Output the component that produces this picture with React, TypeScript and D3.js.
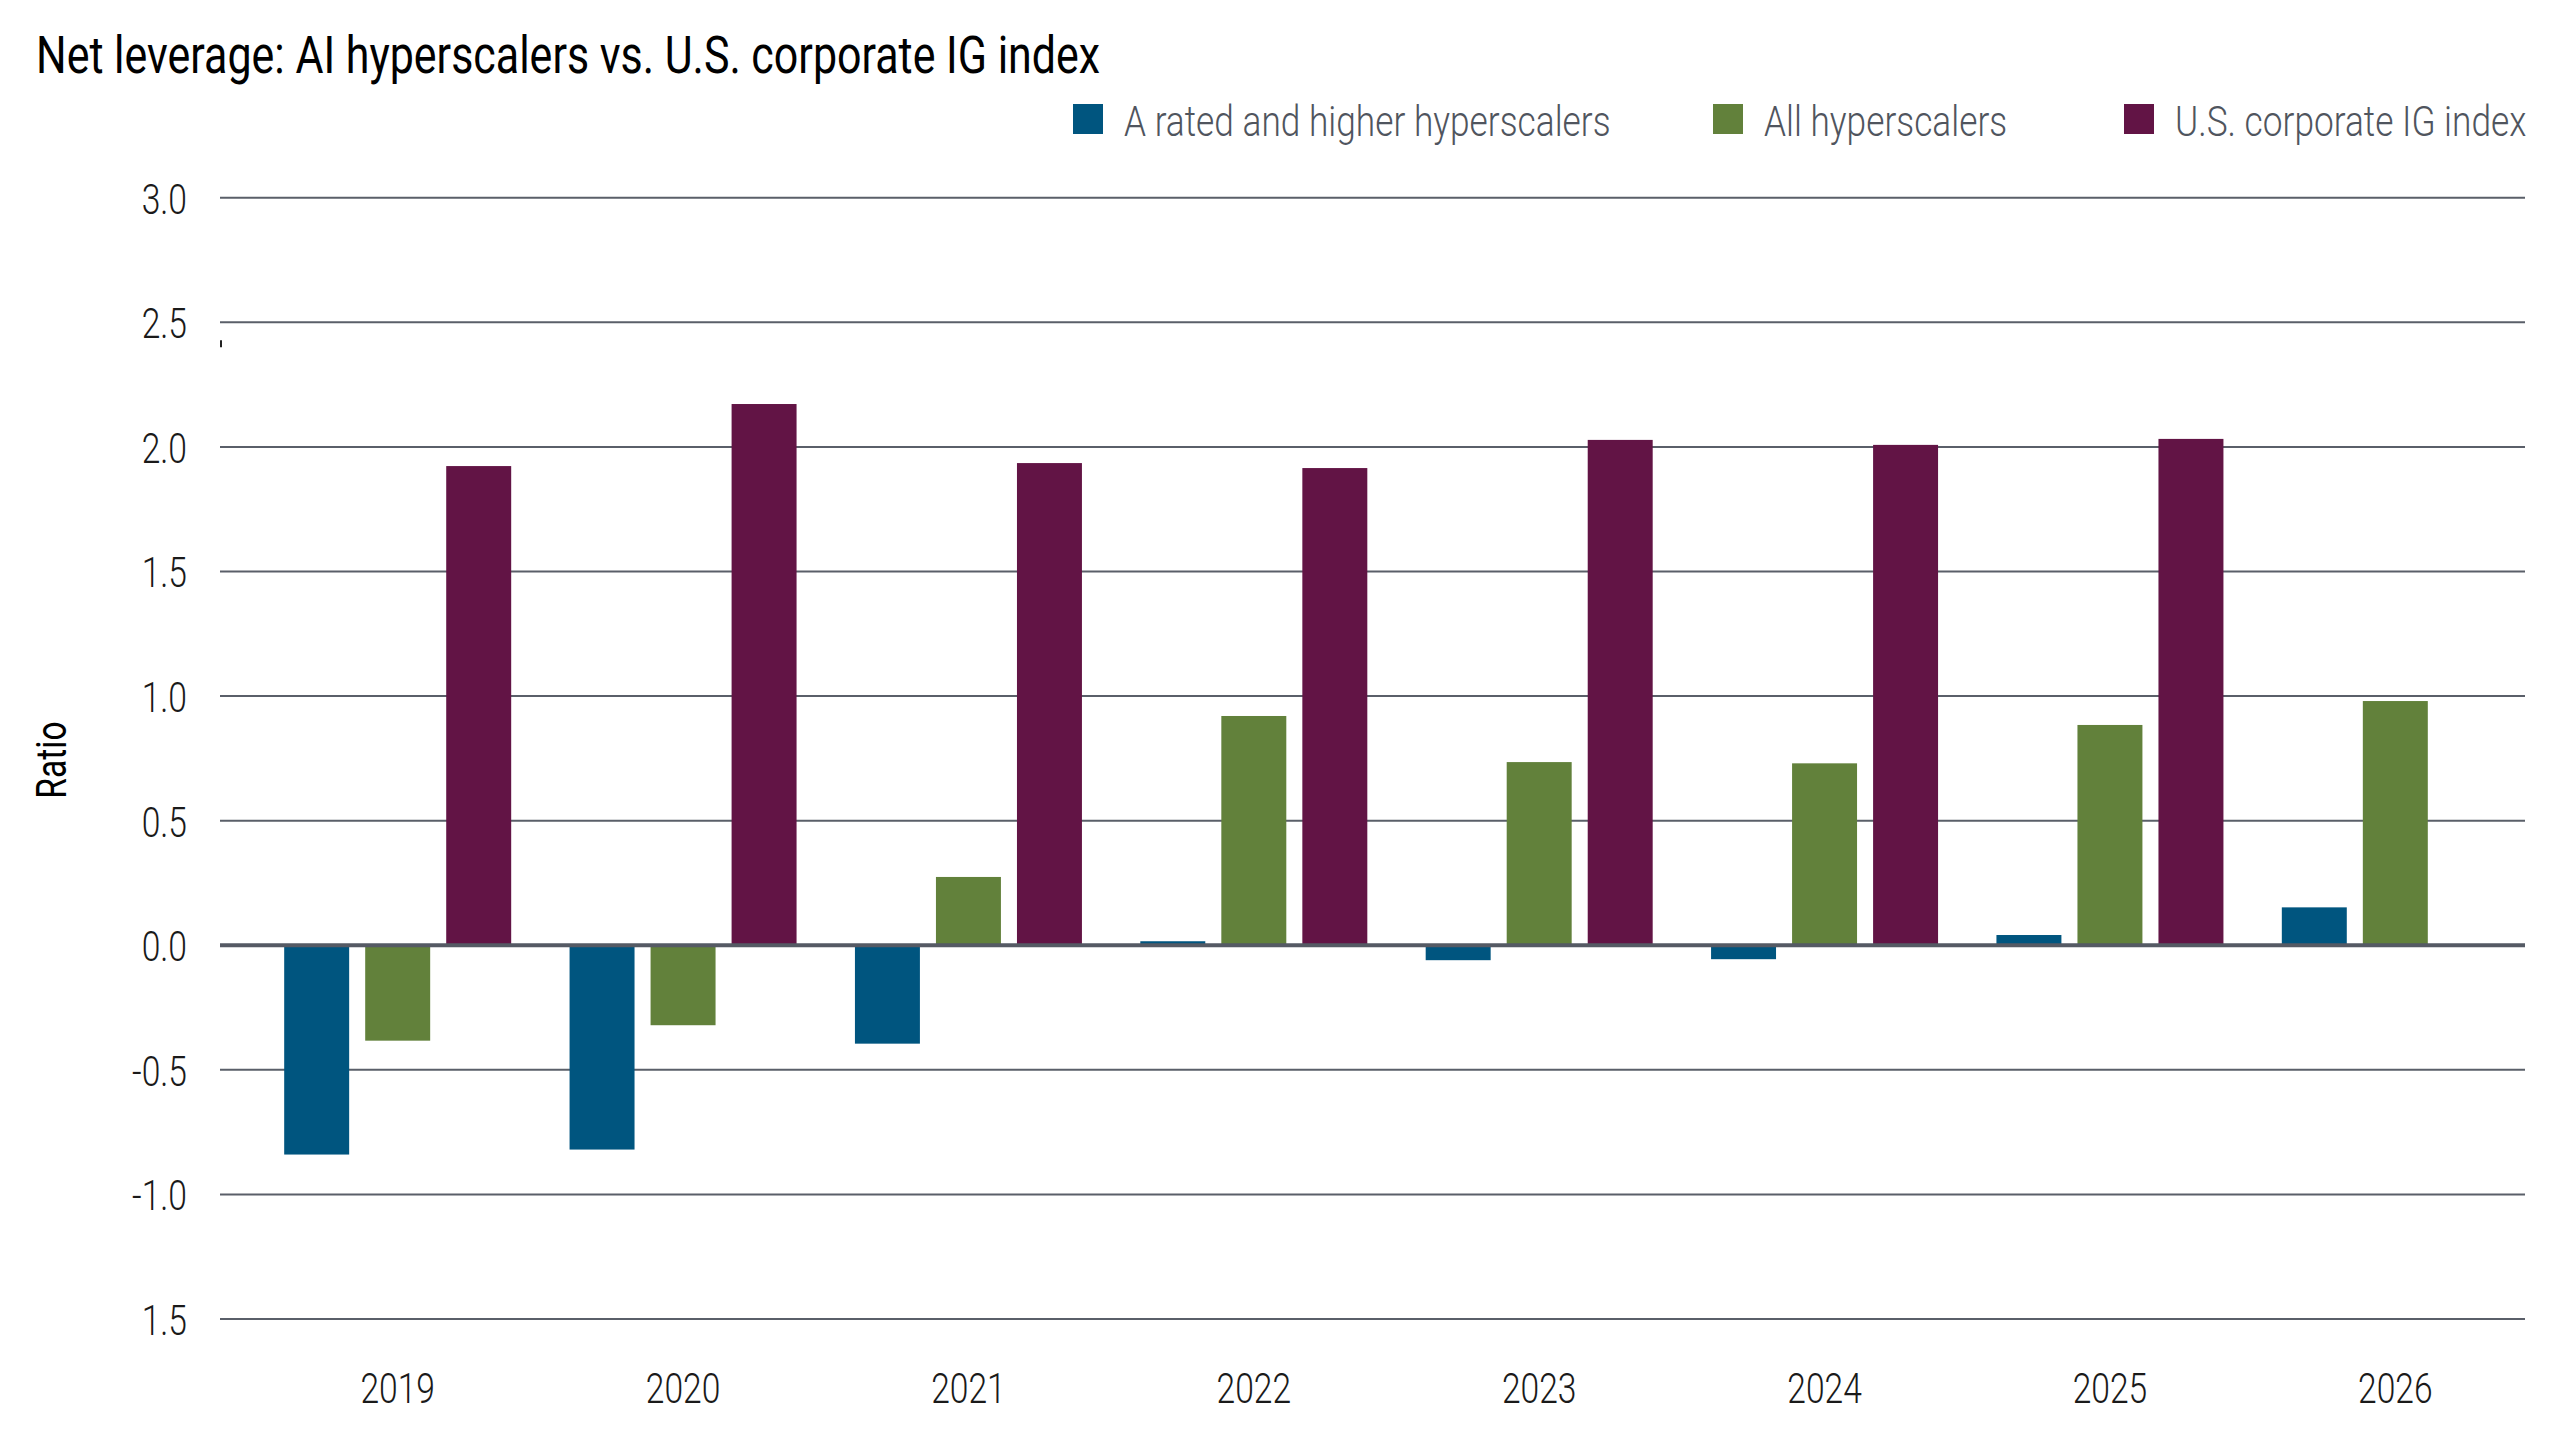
import { useRef, useEffect } from 'react';
import * as d3 from 'd3';

const years = ['2019', '2020', '2021', '2022', '2023', '2024', '2025', '2026'];
const seriesNames = ['A rated and higher hyperscalers', 'All hyperscalers', 'U.S. corporate IG index'];
const seriesColors = ['#00557f', '#62813b', '#621445'];
const ratedHigher = [-0.84, -0.82, -0.395, 0.016, -0.06, -0.056, 0.041, 0.152];
const allHyperscalers = [-0.383, -0.321, 0.274, 0.92, 0.735, 0.73, 0.884, 0.98];
const igIndex: (number | null)[] = [1.923, 2.172, 1.935, 1.915, 2.028, 2.008, 2.032, null];
const yTicks = [3, 2.5, 2, 1.5, 1, 0.5, 0, -0.5, -1, -1.5];
// the bottom label has no minus sign in the original
const yTickLabels = ['3.0', '2.5', '2.0', '1.5', '1.0', '0.5', '0.0', '-0.5', '-1.0', '1.5'];

export default function App() {
    const ref = useRef<SVGSVGElement>(null);

    useEffect(() => {
        if (!ref.current) return;
        const svg = d3.select(ref.current);
        svg.selectAll('*').remove();

        const width = 2560;
        const height = 1440;
        const plotLeft = 220;
        const plotRight = 2525;
        const font = 'Roboto, "Liberation Sans", sans-serif';

        svg.append('rect').attr('width', width).attr('height', height).attr('fill', '#fff');

        const yScale = d3.scaleLinear().domain([-1.5, 3]).range([1319, 197.7]);
        const x0 = d3.scaleBand<string>().domain(years).range([255, 2538]);
        const inner = 227;
        const x1 = d3.scaleBand<number>()
            .domain([0, 1, 2])
            .range([(x0.bandwidth() - inner) / 2, (x0.bandwidth() + inner) / 2])
            .paddingInner(0.198);

        // condensed text: horizontal squeeze around the anchor point
        const text = (g: d3.Selection<any, any, any, any>, x: number, y: number, str: string,
                      size: number, anchor: string, fill: string, weight = 300, squeeze = 0.8, rotate = 0) => {
            g.append('text')
                .attr('transform', `translate(${x},${y}) rotate(${rotate}) scale(${squeeze},1)`)
                .attr('text-anchor', anchor)
                .style('font-family', font)
                .style('font-size', `${size}px`)
                .style('font-weight', weight)
                .attr('fill', fill)
                .text(str);
        };

        // grid
        const grid = svg.append('g');
        yTicks.filter(t => t !== 0).forEach(t => {
            grid.append('line')
                .attr('x1', plotLeft).attr('x2', plotRight)
                .attr('y1', yScale(t)).attr('y2', yScale(t))
                .attr('stroke', '#5a5f69').attr('stroke-width', 2);
        });
        // small stray mark under 2.5
        grid.append('line')
            .attr('x1', plotLeft + 1).attr('x2', plotLeft + 1)
            .attr('y1', yScale(2.5) + 18).attr('y2', yScale(2.5) + 25)
            .attr('stroke', '#222').attr('stroke-width', 2);

        yTicks.forEach((t, i) => {
            text(svg, 187, yScale(t) + 16, yTickLabels[i], 42, 'end', '#1a1a1a');
        });

        // bars
        const series = [ratedHigher, allHyperscalers, igIndex];
        const bars = svg.append('g');
        series.forEach((vals, si) => {
            vals.forEach((v, yi) => {
                if (v === null) return;
                const x = (x0(years[yi]) ?? 0) + (x1(si) ?? 0);
                bars.append('rect')
                    .attr('x', x)
                    .attr('width', x1.bandwidth())
                    .attr('y', yScale(Math.max(0, v)))
                    .attr('height', Math.abs(yScale(v) - yScale(0)))
                    .attr('fill', seriesColors[si]);
            });
        });

        // zero line on top
        svg.append('line')
            .attr('x1', plotLeft).attr('x2', plotRight)
            .attr('y1', yScale(0)).attr('y2', yScale(0))
            .attr('stroke', '#555a64').attr('stroke-width', 4);

        // x labels
        years.forEach(yr => {
            text(svg, (x0(yr) ?? 0) + x0.bandwidth() / 2, 1403, yr, 42, 'middle', '#1a1a1a');
        });

        // title
        text(svg, 36, 73, 'Net leverage: AI hyperscalers vs. U.S. corporate IG index', 52, 'start', '#000', 400, 0.826);

        // y axis title
        text(svg, 66, 760, 'Ratio', 42, 'middle', '#000', 400, 0.8, -90);

        // legend
        const legendX = [1073, 1713, 2124];
        seriesNames.forEach((name, i) => {
            svg.append('rect')
                .attr('x', legendX[i]).attr('y', 104)
                .attr('width', 30).attr('height', 30)
                .attr('fill', seriesColors[i]);
            text(svg, legendX[i] + 51, 136, name, 42, 'start', '#50555e', 300, 0.84);
        });
    }, []);

    return (
        <svg ref={ref} width={2560} height={1440}
             style={{ position: 'fixed', top: 0, left: 0, display: 'block' }} />
    );
}
